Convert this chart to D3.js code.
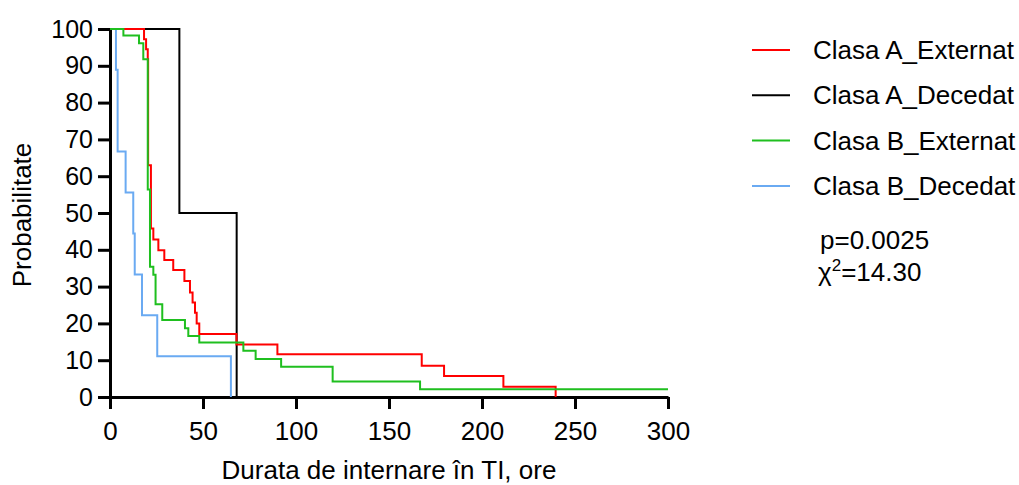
<!DOCTYPE html>
<html>
<head>
<meta charset="utf-8">
<script src="https://cdn.jsdelivr.net/npm/d3@7"></script>
<style>
  body { margin: 0; background: #fff; }
  svg text { font-family: "Liberation Sans", Arial, sans-serif; fill: #000; }
</style>
</head>
<body>
<svg id="chart"></svg>
<script>
  /* Data: step points (time in hours, survival in %) */
  var redTimes = [0, 18.3, 19.4, 20.3, 20.5, 22.0, 23.3, 26, 29.2, 34, 40, 43, 44.4, 45.7, 46.6, 48, 68, 90, 167.6, 179.6, 211.5, 239.6];
  var redValues = [100, 97.2, 94.5, 91.8, 63, 45.8, 42.8, 39.9, 37.2, 34.5, 31.5, 28.4, 25.7, 22.9, 20, 17.1, 14.3, 11.6, 8.5, 5.7, 2.8, 0];

  var blackTimes = [0, 37.3, 68.1];
  var blackValues = [100, 50, 0];

  var greenTimes = [0, 7.2, 15.6, 17.9, 20.3, 21.5, 23.3, 24.5, 28.1, 40.3, 42.1, 48, 71.7, 78.3, 92, 119.7, 166.7, 300];
  var greenValues = [100, 98.2, 96.1, 91.8, 56.4, 35.4, 33.2, 25.2, 20.9, 18.7, 16.6, 14.8, 12.6, 10.3, 8.2, 4.2, 2.1, 2.1];

  var blueTimes = [0, 3.2, 4.1, 8.4, 12.5, 13.3, 17.2, 25.4, 65];
  var blueValues = [100, 88.9, 66.7, 55.6, 44.4, 33.3, 22.2, 11.1, 0];

  var seriesNames = ["Clasa A_Externat", "Clasa A_Decedat", "Clasa B_Externat", "Clasa B_Decedat"];
  var seriesColors = ["#ff0000", "#000000", "#1fbf1f", "#6aaaf2"];

  var xTicks = [0, 50, 100, 150, 200, 250, 300];
  var yTicks = [0, 10, 20, 30, 40, 50, 60, 70, 80, 90, 100];

  /* SVG properties */
  var width = 1019;
  var height = 485;
  var margin = { left: 110, right: 351, top: 29, bottom: 88 };
  var fontSize = 26;

  var svg = d3.select("#chart")
              .attr("width", width)
              .attr("height", height);

  var x = d3.scaleLinear().domain([0, 300]).range([margin.left, width - margin.right]);
  var y = d3.scaleLinear().domain([0, 100]).range([height - margin.bottom, margin.top]);

  /* axes */
  var xAxis = svg.append("g")
                 .attr("transform", "translate(0," + y(0) + ")")
                 .call(d3.axisBottom(x).tickValues(xTicks).tickSize(12).tickSizeOuter(0).tickPadding(13));
  var yAxis = svg.append("g")
                 .attr("transform", "translate(" + x(0) + ",0)")
                 .call(d3.axisLeft(y).tickValues(yTicks).tickSize(12).tickSizeOuter(0).tickPadding(5));
  svg.selectAll(".domain, .tick line")
     .attr("stroke", "#000")
     .attr("stroke-width", 3);
  xAxis.selectAll(".tick text")
       .attr("font-size", fontSize)
       .attr("font-family", "Liberation Sans, Arial, sans-serif");
  yAxis.selectAll(".tick text")
       .attr("font-size", 25)
       .attr("font-family", "Liberation Sans, Arial, sans-serif");

  svg.append("text")
     .attr("x", (x(0) + x(300)) / 2)
     .attr("y", 479)
     .attr("text-anchor", "middle")
     .attr("font-size", fontSize)
     .text("Durata de internare în TI, ore");

  svg.append("text")
     .attr("transform", "translate(31," + ((y(0) + y(100)) / 2 + 2) + ") rotate(-90)")
     .attr("text-anchor", "middle")
     .attr("font-size", fontSize)
     .text("Probabilitate");

  /* survival curves */
  var stepLine = d3.line()
                   .x(function(d) { return x(d[0]); })
                   .y(function(d) { return y(d[1]); })
                   .curve(d3.curveStepAfter);

  var curves = [
    d3.zip(redTimes, redValues),
    d3.zip(blackTimes, blackValues),
    d3.zip(greenTimes, greenValues),
    d3.zip(blueTimes, blueValues)
  ];
  var drawOrder = [3, 1, 0, 2];
  drawOrder.forEach(function(i) {
    svg.append("path")
       .datum(curves[i])
       .attr("fill", "none")
       .attr("stroke", seriesColors[i])
       .attr("stroke-width", 2)
       .attr("d", stepLine);
  });

  /* legend */
  var legend = svg.selectAll(".legend")
                  .data(seriesNames)
                  .enter()
                  .append("g")
                  .attr("class", "legend")
                  .attr("transform", function(d, i) { return "translate(752," + (50 + i * 45.3) + ")"; });
  legend.append("line")
        .attr("x1", 0).attr("x2", 38)
        .attr("stroke", function(d, i) { return seriesColors[i]; })
        .attr("stroke-width", 2);
  legend.append("text")
        .attr("x", 61)
        .attr("dy", "0.35em")
        .attr("font-size", fontSize)
        .text(function(d) { return d; });

  svg.append("text")
     .attr("x", 820)
     .attr("y", 249)
     .attr("font-size", fontSize)
     .text("p=0.0025");
  var chi = svg.append("text")
     .attr("x", 818)
     .attr("y", 281)
     .attr("font-size", fontSize);
  chi.append("tspan").text("χ");
  chi.append("tspan").attr("dy", -10).attr("font-size", 17).text("2");
  chi.append("tspan").attr("dy", 10).text("=14.30");
</script>
</body>
</html>
